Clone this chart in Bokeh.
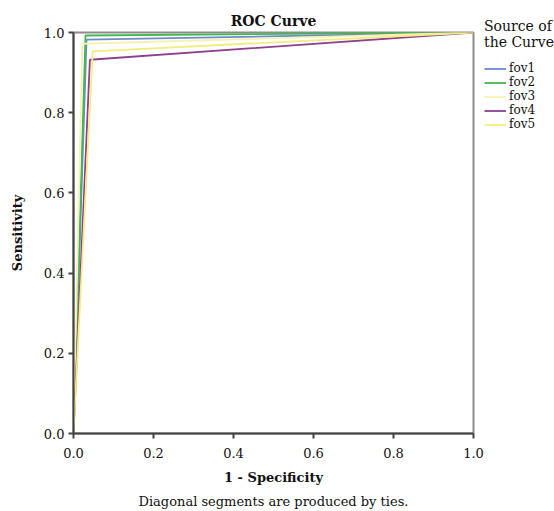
from bokeh.plotting import figure
from bokeh.models import Legend, LegendItem, Title, FixedTicker, PrintfTickFormatter
from bokeh.embed import file_html
from bokeh.resources import INLINE

# ---- data ----
series = ["fov1", "fov2", "fov3", "fov4", "fov5"]
fpr_fov1 = [0.0, 0.0325, 1.0]
tpr_fov1 = [0.0, 0.982, 1.0]
fpr_fov2 = [0.0, 0.030, 1.0]
tpr_fov2 = [0.0, 0.9925, 1.0]
fpr_fov3 = [0.0, 0.022, 1.0]
tpr_fov3 = [0.0, 0.972, 1.0]
fpr_fov4 = [0.0, 0.041, 1.0]
tpr_fov4 = [0.0, 0.932, 1.0]
fpr_fov5 = [0.0, 0.048, 1.0]
tpr_fov5 = [0.0, 0.953, 1.0]
ticks = [0.0, 0.2, 0.4, 0.6, 0.8, 1.0]

fprs = [fpr_fov1, fpr_fov2, fpr_fov3, fpr_fov4, fpr_fov5]
tprs = [tpr_fov1, tpr_fov2, tpr_fov3, tpr_fov4, tpr_fov5]
colors = ["#6f8bcc", "#42b84f", "#f6f2b4", "#8e3f92", "#f5ec80"]

FONT = "DejaVu Serif"

p = figure(output_backend="svg", toolbar_location=None,
           x_range=(0, 1), y_range=(0, 1),
           min_border_left=73, min_border_top=32, min_border_right=0, min_border_bottom=4,
           frame_width=400, frame_height=401)
p.background_fill_color = "white"
p.border_fill_color = "white"
p.outline_line_color = "#8c8c8c"
p.outline_line_width = 2
p.xgrid.visible = False
p.ygrid.visible = False

p.title.text = "ROC Curve"
p.title.align = "center"
p.title.text_font = FONT
p.title.text_font_style = "bold"
p.title.text_font_size = "14px"
p.title.text_color = "#111111"
p.title.offset = 12
p.title.standoff = 8

for ax in (p.xaxis[0], p.yaxis[0]):
    ax.ticker = FixedTicker(ticks=ticks)
    ax.formatter = PrintfTickFormatter(format="%.1f")
    ax.minor_tick_line_color = None
    ax.major_tick_out = 5
    ax.major_tick_in = 0
    ax.axis_line_color = "#444444"
    ax.axis_line_width = 2
    ax.major_tick_line_color = "#444444"
    ax.major_tick_line_width = 2
    ax.major_label_text_font = FONT
    ax.major_label_text_font_size = "13px"
    ax.major_label_text_color = "#111111"
    ax.axis_label_text_font = FONT
    ax.axis_label_text_font_style = "bold"
    ax.axis_label_text_font_size = "13px"
    ax.axis_label_text_color = "#111111"

p.xaxis[0].axis_label = "1 - Specificity"
p.yaxis[0].axis_label = "Sensitivity"
p.xaxis[0].major_label_standoff = 9
p.yaxis[0].major_label_standoff = 4
p.xaxis[0].axis_label_standoff = 9
p.yaxis[0].axis_label_standoff = 16

items = []
for name, fx, fy, c in zip(series, fprs, tprs, colors):
    r = p.line(fx, fy, line_color=c, line_width=1.8)
    items.append(LegendItem(label=name, renderers=[r]))

legend = Legend(items=items, location=(11, 302), title="Source of\nthe Curve",
                title_text_font=FONT, title_text_font_size="14px", title_text_font_style="normal",
                title_text_color="#111111", title_standoff=11,
                label_text_font=FONT, label_text_font_size="12px", label_text_color="#111111",
                glyph_width=22, glyph_height=13, label_height=13, spacing=0, padding=0,
                margin=0, label_standoff=3, border_line_color=None,
                background_fill_alpha=0)
p.add_layout(legend, "right")

cap = Title(text="Diagonal segments are produced by ties.", align="center",
            text_font=FONT, text_font_size="13px", text_font_style="normal",
            text_color="#111111", offset=0, standoff=9)
p.add_layout(cap, "below")

open("out.html", "w").write(file_html(p, INLINE))
